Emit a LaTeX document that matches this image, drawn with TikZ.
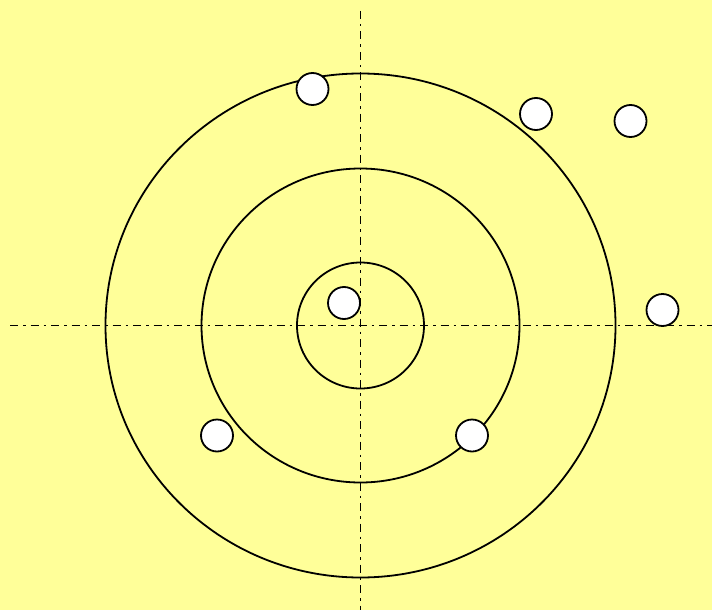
\documentclass[tikz,border=0pt]{standalone}
\definecolor{bg}{HTML}{FFFF99}
\tikzset{
  ring/.style={draw=black, line width=1.8pt},
  axis/.style={draw=black, line width=1.8pt, dash pattern=on 8pt off 5pt on 2.5pt off 5pt},
  ball/.style={circle, draw=black, fill=white, line width=1.8pt, minimum size=32pt, inner sep=0pt}
}
\begin{document}
\begin{tikzpicture}[x=1pt,y=-1pt]
\fill[bg] (0,0) rectangle (712,610);
\useasboundingbox (0,0) rectangle (712,610);
\coordinate (c) at (360.5,325.5);
\coordinate (l) at (10,325.5);
\coordinate (r) at (712,325.5);
\coordinate (t) at (360.5,11);
\coordinate (b) at (360.5,610);
\draw[axis] (l) -- (r);
\draw[axis] (t) -- (b);
\draw[ring] (c) ellipse [x radius=63.5, y radius=63];
\draw[ring] (c) ellipse [x radius=159, y radius=157];
\draw[ring] (c) ellipse [x radius=255, y radius=252];
\node[ball] (b1) at (312.5,89) {};
\node[ball] (b2) at (536,114) {};
\node[ball] (b3) at (630.5,121) {};
\node[ball] (b4) at (662.5,310) {};
\node[ball] (b5) at (344,303) {};
\node[ball] (b6) at (217,435.5) {};
\node[ball] (b7) at (472,435.5) {};
\end{tikzpicture}
\end{document}
